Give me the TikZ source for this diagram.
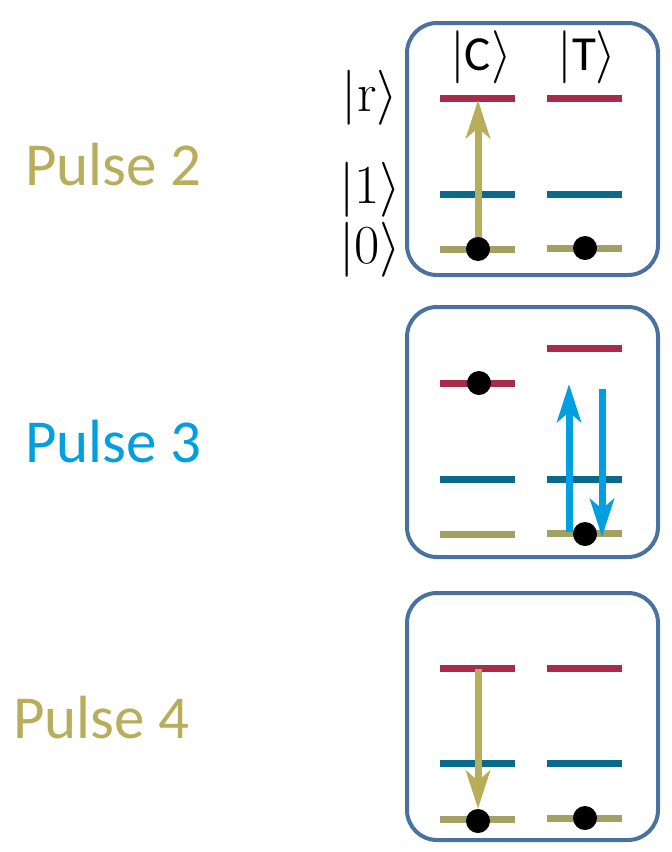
\RequirePackage{fix-cm}
\documentclass[tikz,border=0pt]{standalone}
\usepackage{fontspec}
\newfontfamily\carlito{Carlito}
\usetikzlibrary{arrows.meta}
\definecolor{olivetxt}{HTML}{B8AD5B}
\definecolor{olivearr}{HTML}{B8AE5A}
\definecolor{olivelvl}{HTML}{A2A062}
\definecolor{redlvl}{HTML}{A92B4B}
\definecolor{teallvl}{HTML}{0A6A8C}
\definecolor{boxblue}{HTML}{4A72A0}
\definecolor{pulseblue}{HTML}{00A0E0}
\tikzset{
  panel/.style={draw=boxblue, line width=4pt, rounded corners=30pt},
  lvl/.style={line width=7pt, line cap=butt},
  lvlr/.style={lvl, draw=redlvl},
  lvl1/.style={lvl, draw=teallvl},
  lvl0/.style={lvl, draw=olivelvl},
  atom/.style={circle, fill=black, inner sep=0pt, minimum size=24pt},
  transition/.style={line width=7pt, -{Stealth[length=38pt,width=24pt,inset=10pt]}},
  pulselabel/.style={anchor=base west, inner sep=0pt, font=\carlito\fontsize{61}{70}\selectfont},
  statelabel/.style={inner sep=0pt, font=\fontsize{55}{62}\selectfont},
  qlabel/.style={inner sep=0pt, font=\fontsize{53}{60}\selectfont},
}
\newcommand{\qket}[1]{$|\mbox{\carlito\fontsize{49}{55}\selectfont #1}\rangle$}
\begin{document}
\begin{tikzpicture}[x=1pt,y=-1pt]
\useasboundingbox (0,0) rectangle (672,852);
% labels
\node[pulselabel, text=olivetxt] (p2) at (25,185) {Pulse 2};
\node[pulselabel, text=pulseblue] (p3) at (25,462) {Pulse 3};
\node[pulselabel, text=olivetxt] (p4) at (13,738) {Pulse 4};
% ---- panel 1
\draw[panel] (407,23) rectangle (658,275);
\node[qlabel] (qc) at (481,57) {\qket{C}};
\node[qlabel] (qt) at (587,57) {\qket{T}};
\node[statelabel] (sr) at (370,98) {$|\mathrm{r}\rangle$};
\node[statelabel] (s1) at (370,190) {$|1\rangle$};
\node[statelabel] (s0) at (370,250) {$|0\rangle$};
\draw[lvlr] (440,98) -- (515,98);
\draw[lvlr] (547,98) -- (622,98);
\draw[lvl1] (440,194) -- (515,194);
\draw[lvl1] (547,194) -- (622,194);
\draw[lvl0] (440,249) -- (515,249);
\draw[lvl0] (547,248) -- (622,248);
\coordinate (a1top) at (478,100);
\coordinate (a1bot) at (478,249);
\draw[transition, draw=olivearr] (a1bot) -- (a1top);
\node[atom] (d1c) at (478,249) {};
\node[atom] (d1t) at (585,248) {};
% ---- panel 2
\draw[panel] (407,307) rectangle (658,557);
\draw[lvlr] (440,383) -- (515,383);
\draw[lvlr] (547,348) -- (622,348);
\draw[lvl1] (440,479) -- (515,479);
\draw[lvl1] (547,479) -- (622,479);
\draw[lvl0] (440,534) -- (515,534);
\draw[lvl0] (547,533) -- (622,533);
\node[atom] (d2c) at (479,383) {};
\node[atom] (d2t) at (585,534) {};
\coordinate (b1s) at (569,532);
\coordinate (b1e) at (569,384);
\coordinate (b2s) at (602,389);
\coordinate (b2e) at (602,537);
\draw[transition, draw=pulseblue] (b1s) -- (b1e);
\draw[transition, draw=pulseblue] (b2s) -- (b2e);
% ---- panel 3
\draw[panel] (407,593) rectangle (658,840);
\draw[lvlr] (440,668) -- (515,668);
\draw[lvlr] (547,668) -- (622,668);
\draw[lvl1] (440,763) -- (515,763);
\draw[lvl1] (547,763) -- (622,763);
\draw[lvl0] (440,819) -- (515,819);
\draw[lvl0] (547,818) -- (622,818);
\coordinate (c1s) at (478,669);
\node[atom] (d3c) at (478,821) {};
\node[atom] (d3t) at (585,818) {};
\draw[transition, draw=olivearr] (c1s) -- (d3c.north);
\end{tikzpicture}
\end{document}
